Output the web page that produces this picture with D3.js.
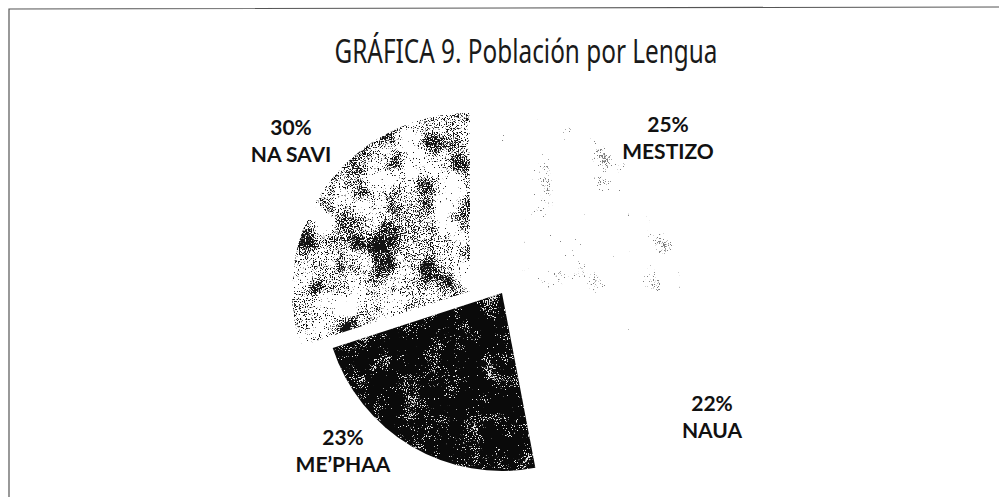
<!DOCTYPE html>
<html lang="es">
<head>
<meta charset="utf-8">
<title>Población por Lengua</title>
<script src="https://cdn.jsdelivr.net/npm/d3@7"></script>
<style>
  html, body { margin: 0; padding: 0; background: #fff; }
  svg { display: block; }
</style>
</head>
<body>
<div id="chart"></div>
<script>
// Población por lengua (porcentaje del total)
const categories = ["MESTIZO", "NAUA", "ME\u2019PHAA", "NA SAVI"];
const shares = [25, 22, 23, 30];
const percentLabels = shares.map(v => v + "%");
const chartTitle = "GRÁFICA 9. Población por Lengua";

const W = 999, H = 497;
const cx = 502, cy = 293, R = 178;

const svg = d3.select("#chart").append("svg")
  .attr("width", W).attr("height", H)
  .attr("viewBox", `0 0 ${W} ${H}`);

// ---- textured fills: thresholded noise clipped to each slice ----
const defs = svg.append("defs");
function grain(id, opts) {
  const f = defs.append("filter").attr("id", id)
    .attr("x", 0).attr("y", 0).attr("width", 1).attr("height", 1)
    .attr("color-interpolation-filters", "sRGB");
  f.append("feTurbulence").attr("type", "fractalNoise")
    .attr("baseFrequency", opts.coarse).attr("numOctaves", 5)
    .attr("seed", opts.seed).attr("result", "big");
  f.append("feTurbulence").attr("type", "fractalNoise")
    .attr("baseFrequency", opts.fine).attr("numOctaves", 2)
    .attr("seed", opts.seed + 7).attr("result", "small");
  f.append("feComposite").attr("in", "big").attr("in2", "small")
    .attr("operator", "arithmetic")
    .attr("k1", 0).attr("k2", opts.mix).attr("k3", 1 - opts.mix).attr("k4", 0)
    .attr("result", "noise");
  const c = opts.contrast, t = opts.threshold, ink = opts.ink;
  f.append("feColorMatrix").attr("in", "noise").attr("type", "matrix")
    .attr("values",
      `0 0 0 0 ${ink} 0 0 0 0 ${ink} 0 0 0 0 ${ink} ${-c} 0 0 0 ${c * t}`)
    .attr("result", "dots");
  f.append("feComposite").attr("in", "dots").attr("in2", "SourceGraphic")
    .attr("operator", "in");
}

// base colour under the grain, grain colour and amount per category
const sliceStyle = {
  "MESTIZO":      { base: "#ffffff", ink: 0, seed: 3,  coarse: 0.035, fine: 0.8,  mix: 0.55, threshold: 0.33, contrast: 30, opacity: 0.5 },
  "NAUA":         { base: "#ffffff", ink: 0, seed: 11, coarse: 0.05,  fine: 0.9,  mix: 0.5,  threshold: 0.2,  contrast: 30, opacity: 0.3 },
  "ME\u2019PHAA": { base: "#0a0a0a", ink: 1, seed: 5,  coarse: 0.05,  fine: 0.9,  mix: 0.4,  threshold: 0.39, contrast: 26, opacity: 0.9 },
  "NA SAVI":      { base: "#ffffff", ink: 0, seed: 9,  coarse: 0.03,  fine: 0.85, mix: 0.5,  threshold: 0.475, contrast: 22, opacity: 0.92 }
};
categories.forEach((c, i) => grain("grain" + i, sliceStyle[c]));

// ---- pie ----
const pie = d3.pie().sort(null).value(d => d.value)
  .startAngle(0).endAngle(2 * Math.PI);
const arc = d3.arc().innerRadius(0).outerRadius(R);
const rows = categories.map((c, i) => ({ name: c, value: shares[i], label: percentLabels[i], idx: i }));
const arcs = pie(rows);

// the NA SAVI wedge is pulled out of the pie
const shift = { "NA SAVI": [-32, -2] };

const slices = svg.append("g").attr("transform", `translate(${cx},${cy})`)
  .selectAll("g.slice").data(arcs).join("g")
  .attr("class", "slice")
  .attr("transform", d => {
    const s = shift[d.data.name] || [0, 0];
    return `translate(${s[0]},${s[1]})`;
  });

slices.append("path")
  .attr("d", arc)
  .attr("fill", d => sliceStyle[d.data.name].base);
slices.append("path")
  .attr("d", arc)
  .attr("fill", "#000")
  .attr("opacity", d => sliceStyle[d.data.name].opacity)
  .attr("filter", d => `url(#grain${d.data.idx})`);

// ---- labels ----
const labelAt = {
  "MESTIZO": [166, -161],
  "NAUA": [210, 118],
  "ME\u2019PHAA": [-159, 152],
  "NA SAVI": [-211, -158]
};
const lab = svg.append("g").attr("transform", `translate(${cx},${cy})`)
  .selectAll("text").data(arcs).join("text")
  .attr("text-anchor", "middle")
  .attr("font-family", "Lato, 'Open Sans', sans-serif")
  .attr("font-weight", 700)
  .attr("font-size", 21)
  .attr("fill", "#111")
  .attr("transform", d => `translate(${labelAt[d.data.name][0]},${labelAt[d.data.name][1]})`);
lab.append("tspan").attr("x", 0).attr("y", 0).text(d => d.data.label);
lab.append("tspan").attr("x", 0).attr("y", 27).text(d => d.data.name);

// ---- title ----
svg.append("text")
  .attr("x", 526).attr("y", 63)
  .attr("text-anchor", "middle")
  .attr("font-family", "'Noto Sans', sans-serif")
  .attr("font-size", 33)
  .attr("fill", "#1a1a1a")
  .attr("textLength", 383)
  .attr("lengthAdjust", "spacingAndGlyphs")
  .text(chartTitle);

// ---- frame ----
svg.append("path")
  .attr("d", "M9,497 L9,9 L999,7")
  .attr("fill", "none")
  .attr("stroke", "#555")
  .attr("stroke-width", 1.2);
</script>
</body>
</html>
